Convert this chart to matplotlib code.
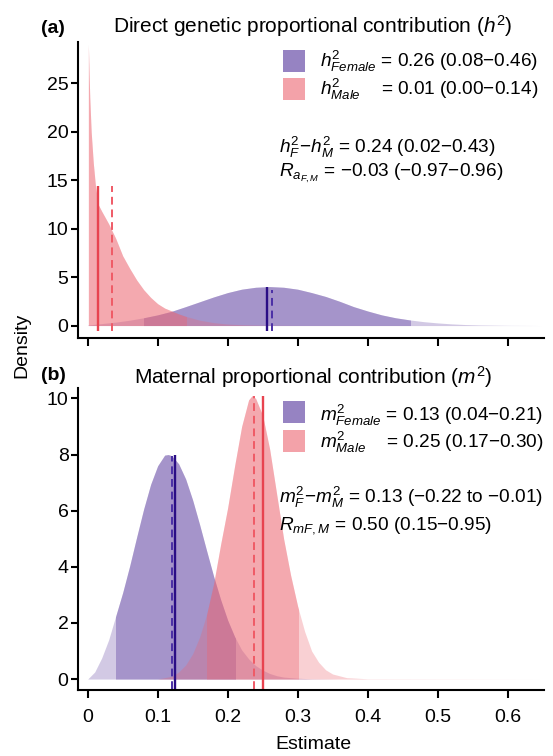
import matplotlib.pyplot as plt
from matplotlib.patches import Rectangle
import numpy as np

plt.rcParams['font.family'] = 'Liberation Sans'
plt.rcParams['mathtext.fontset'] = 'custom'
plt.rcParams['mathtext.rm'] = 'Liberation Sans'
plt.rcParams['mathtext.it'] = 'Liberation Sans:italic'
plt.rcParams['mathtext.bf'] = 'Liberation Sans:bold'

# ---- panel (a): direct genetic proportional contribution, posterior densities
h2_f_x = [0.00, 0.02, 0.04, 0.06, 0.08, 0.10, 0.12, 0.14, 0.16, 0.18, 0.20, 0.22, 0.24, 0.26,
          0.28, 0.30, 0.32, 0.34, 0.36, 0.38, 0.40, 0.42, 0.44, 0.46, 0.48, 0.50, 0.52, 0.54,
          0.56, 0.60, 0.65]
h2_f_y = [0.05, 0.2, 0.35, 0.55, 0.8, 1.1, 1.47, 1.95, 2.45, 2.95, 3.4, 3.75, 3.95, 4.02,
          3.95, 3.75, 3.4, 3.0, 2.5, 1.95, 1.5, 1.1, 0.8, 0.58, 0.4, 0.27, 0.17, 0.1,
          0.06, 0.02, 0.0]
h2_m_x = [0.001, 0.002, 0.003, 0.005, 0.008, 0.011, 0.015, 0.02, 0.03, 0.04, 0.05, 0.06, 0.07,
          0.08, 0.09, 0.10, 0.11, 0.12, 0.13, 0.14, 0.16, 0.18, 0.20, 0.225, 0.25, 0.30, 0.65]
h2_m_y = [29.0, 26.0, 23.5, 20.0, 16.8, 14.5, 12.5, 11.8, 10.5, 9.0, 7.2, 5.9, 4.7,
          3.7, 2.9, 2.25, 1.8, 1.5, 1.2, 0.95, 0.55, 0.3, 0.15, 0.07, 0.03, 0.01, 0.0]
h2_f_ci = (0.08, 0.46)
h2_m_ci = (0.00, 0.14)
# estimate lines: (x, top height); solid then dashed
h2_f_marks = [(0.256, 4.0), (0.263, 3.7)]
h2_m_marks = [(0.0143, 14.4), (0.0343, 14.4)]
h2_labels = [r'$h^{2}_{Female}$ = 0.26 (0.08−0.46)',
             r'$h^{2}_{Male}$    = 0.01 (0.00−0.14)']
h2_notes = [r'$h^{2}_{F}\!-\!h^{2}_{M}$ = 0.24 (0.02−0.43)',
            r'$R_{a_{F,M}}$ = −0.03 (−0.97−0.96)']

# ---- panel (b): maternal proportional contribution
m2_f_x = [0.00, 0.01, 0.02, 0.03, 0.04, 0.05, 0.06, 0.07, 0.08, 0.09, 0.10, 0.11, 0.115, 0.12,
          0.13, 0.14, 0.15, 0.16, 0.17, 0.18, 0.19, 0.20, 0.21, 0.22, 0.23, 0.24, 0.25, 0.26,
          0.27, 0.28, 0.30, 0.32, 0.36, 0.65]
m2_f_y = [0.0, 0.25, 0.75, 1.4, 2.24, 3.08, 4.03, 5.06, 6.06, 6.94, 7.6, 7.98, 8.0, 7.96,
          7.67, 7.13, 6.38, 5.5, 4.57, 3.66, 2.83, 2.1, 1.51, 1.04, 0.72, 0.48, 0.32, 0.2,
          0.12, 0.07, 0.03, 0.01, 0.0, 0.0]
m2_m_x = [0.10, 0.12, 0.13, 0.14, 0.15, 0.16, 0.17, 0.18, 0.19, 0.20, 0.21, 0.22, 0.23, 0.235,
          0.24, 0.25, 0.26, 0.27, 0.28, 0.29, 0.30, 0.31, 0.32, 0.33, 0.34, 0.35, 0.37, 0.40, 0.65]
m2_m_y = [0.0, 0.1, 0.25, 0.5, 0.9, 1.5, 2.3, 3.4, 4.8, 6.1, 7.6, 9.0, 9.95, 10.1,
          10.0, 9.4, 8.2, 6.6, 5.0, 3.7, 2.6, 1.7, 1.0, 0.6, 0.33, 0.18, 0.05, 0.01, 0.0]
m2_f_ci = (0.04, 0.21)
m2_m_ci = (0.17, 0.30)
m2_f_marks = [(0.1247, 8.0), (0.120, 7.95)]
m2_m_marks = [(0.250, 10.1), (0.237, 10.1)]
m2_labels = [r'$m^{2}_{Female}$ = 0.13 (0.04−0.21)',
             r'$m^{2}_{Male}$    = 0.25 (0.17−0.30)']
m2_notes = [r'$m^{2}_{F}\!-\!m^{2}_{M}$ = 0.13 (−0.22 to −0.01)',
            r'$R_{mF,M}$ = 0.50 (0.15−0.95)']

x_ticks = [0, 0.1, 0.2, 0.3, 0.4, 0.5, 0.6]

PURPLE = '#6a4ea8'
PINK = '#ec6470'
LINE_F = ['#2a0d85', '#4a2fa5']
LINE_M = ['#e8434f', '#ef5a66']
FS = 14


def draw_density(ax, x, y, ci, color, a_ci):
    ax.fill_between(x, 0, y, color=color, alpha=0.3, lw=0)
    band = ax.fill_between(x, 0, y, color=color, alpha=a_ci, lw=0)
    clip = Rectangle((ci[0], -5), ci[1] - ci[0], 100, transform=ax.transData)
    band.set_clip_path(clip)


def draw_marks(ax, marks, colors, ybot):
    (xs, ts), (xd, td) = marks
    ax.vlines(xs, ybot, ts, color=colors[0], lw=1.7)
    ax.vlines(xd, ybot, td, color=colors[1], lw=1.4, linestyles=(0, (4, 2.5)))


def style_axis(ax, ylim, yticks):
    ax.set_xlim(-0.0134, 0.652)
    ax.set_ylim(*ylim)
    ax.set_xticks(x_ticks)
    ax.set_yticks(yticks)
    for s in ['top', 'right']:
        ax.spines[s].set_visible(False)
    for s in ['left', 'bottom']:
        ax.spines[s].set_linewidth(1.5)
    ax.tick_params(axis='x', length=6, width=1.5, pad=8, labelsize=FS)
    ax.tick_params(axis='y', length=5, width=1.5, pad=2, labelsize=FS)


def draw_legend(ax, labels, notes, sq_y, lab_y, note_y):
    for lab, col, a, sy, ly in zip(labels, [PURPLE, PINK], [0.7, 0.6], sq_y, lab_y):
        ax.add_patch(Rectangle((0.4406, sy), 0.0472, 0.073, transform=ax.transAxes,
                               color=col, alpha=a, lw=0))
        ax.text(0.5201, ly, lab, transform=ax.transAxes, fontsize=FS - 0.3, va='baseline')
    for note, ny in zip(notes, note_y):
        ax.text(0.431, ny, note, transform=ax.transAxes, fontsize=FS - 0.3, va='baseline')


fig = plt.figure(figsize=(5.53, 7.56), dpi=100)
ax1 = fig.add_axes([0.1416, 0.5525, 0.842, 0.3923])
ax2 = fig.add_axes([0.1416, 0.0873, 0.842, 0.399])

draw_density(ax1, h2_f_x, h2_f_y, h2_f_ci, PURPLE, 0.43)
draw_density(ax1, h2_m_x, h2_m_y, h2_m_ci, PINK, 0.36)
draw_marks(ax1, h2_m_marks, LINE_M, -0.6)
draw_marks(ax1, h2_f_marks, LINE_F, -0.6)
style_axis(ax1, (-1.32, 29.3), [0, 5, 10, 15, 20, 25])
ax1.set_xticklabels([])
draw_legend(ax1, h2_labels, h2_notes, [0.898, 0.8034], [0.9137, 0.8203], [0.6237, 0.5448])

draw_density(ax2, m2_f_x, m2_f_y, m2_f_ci, PURPLE, 0.43)
draw_density(ax2, m2_m_x, m2_m_y, m2_m_ci, PINK, 0.36)
draw_marks(ax2, m2_f_marks, LINE_F, -0.36)
draw_marks(ax2, m2_m_marks, LINE_M, -0.36)
style_axis(ax2, (-0.39, 10.36), [0, 2, 4, 6, 8, 10])
ax2.set_xticklabels(['0', '0.1', '0.2', '0.3', '0.4', '0.5', '0.6'])
draw_legend(ax2, m2_labels, m2_notes, [0.884, 0.790], [0.8916, 0.8011], [0.6188, 0.5327])

fig.text(0.566, 0.957, r'Direct genetic proportional contribution ($h^2$)', fontsize=FS + 1,
         ha='center', va='baseline')
fig.text(0.566, 0.4917, r'Maternal proportional contribution ($m^2$)', fontsize=FS + 1,
         ha='center', va='baseline')
fig.text(0.0736, 0.957, '(a)', fontsize=FS, fontweight='bold', va='baseline')
fig.text(0.0736, 0.497, '(b)', fontsize=FS, fontweight='bold', va='baseline')
fig.text(0.04, 0.5437, 'Density', fontsize=FS, rotation=90, ha='center', va='center')
fig.text(0.566, 0.0146, 'Estimate', fontsize=FS, ha='center', va='center')

fig.savefig('out.png', dpi=100)
